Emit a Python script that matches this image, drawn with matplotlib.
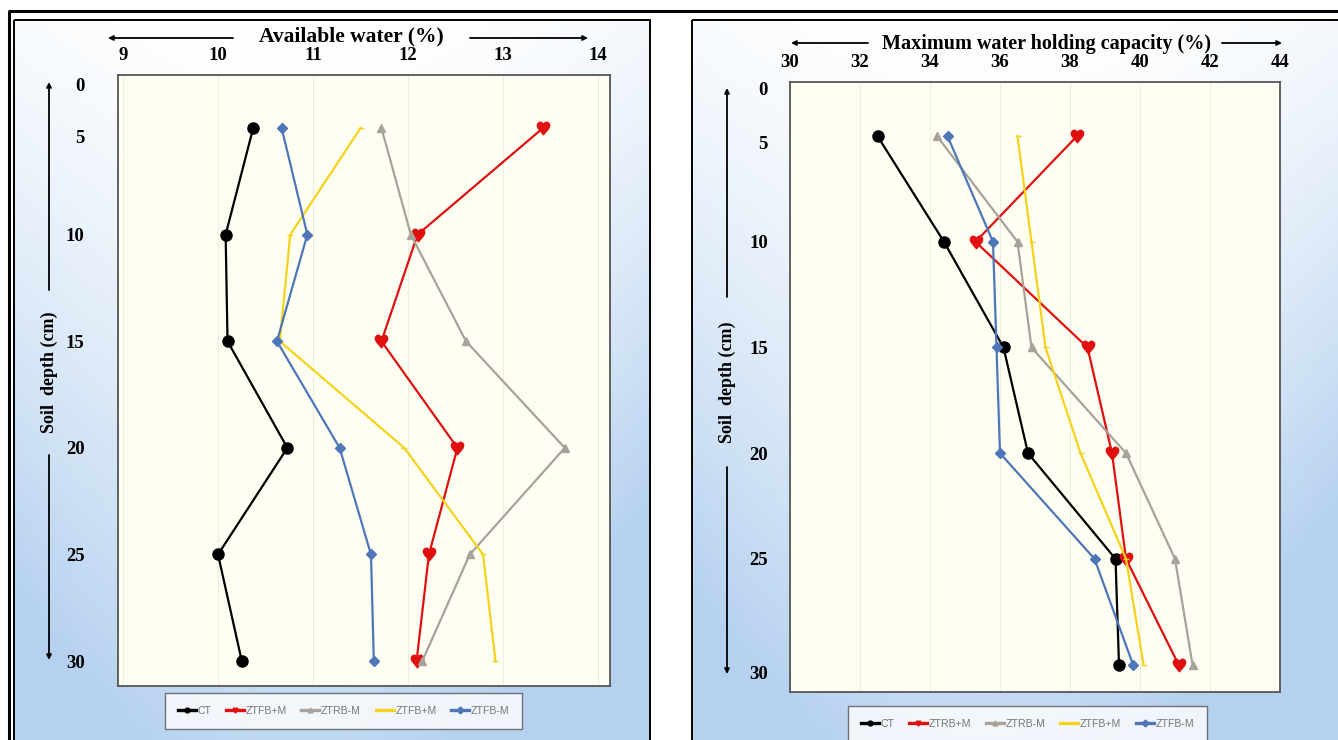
import numpy as np
import matplotlib
matplotlib.use("Agg")
import matplotlib.pyplot as plt
from matplotlib.patches import Rectangle
from matplotlib.lines import Line2D

# ---------------- data ----------------
depth = [5, 10, 15, 20, 25, 30]
depth_labels = ["0", "5", "10", "15", "20", "25", "30"]

# Available water (%)
aw_labels = ["CT", "ZTFB+M", "ZTRB-M", "ZTFB+M", "ZTFB-M"]
aw_ct = [10.37, 10.08, 10.10, 10.73, 10.00, 10.25]
aw_red = [13.42, 12.10, 11.72, 12.52, 12.22, 12.09]
aw_gray = [11.72, 12.03, 12.61, 13.65, 12.65, 12.15]
aw_yellow = [11.50, 10.76, 10.65, 11.96, 12.79, 12.92]
aw_blue = [10.67, 10.94, 10.62, 11.28, 11.61, 11.64]
aw_ticks = [9, 10, 11, 12, 13, 14]

# Maximum water holding capacity (%)
mw_labels = ["CT", "ZTRB+M", "ZTRB-M", "ZTFB+M", "ZTFB-M"]
mw_ct = [32.5, 34.4, 36.1, 36.8, 39.3, 39.4]
mw_red = [38.2, 35.3, 38.5, 39.2, 39.6, 41.1]
mw_gray = [34.2, 36.5, 36.9, 39.6, 41.0, 41.5]
mw_yellow = [36.5, 36.9, 37.3, 38.3, 39.6, 40.1]
mw_blue = [34.5, 35.8, 35.9, 36.0, 38.7, 39.8]
mw_ticks = [30, 32, 34, 36, 38, 40, 42, 44]

colors = ["#000000", "#e01010", "#a8a29a", "#f5d31c", "#4f76b8"]
markers = ["o", "$\u2665$", "^", "_", "D"]
msizes = [8, 9, 6, 5, 5]

W, H = 1338, 740
fig = plt.figure(figsize=(W / 100, H / 100), dpi=100)
fig.patch.set_facecolor("white")

serif = ["Liberation Serif", "DejaVu Serif"]


def fx(px):
    return px / W


def fy(py):
    return 1 - py / H


def gradient_panel(x0, y0, x1, y1):
    ax = fig.add_axes([fx(x0), fy(y1), fx(x1) - fx(x0), fy(y0) - fy(y1)], zorder=0)
    ny, nx = 200, 200
    yy, xx = np.mgrid[0:1:ny * 1j, 0:1:nx * 1j]
    t = np.clip(0.85 * yy ** 1.3 + 0.4 * (np.abs(xx - 0.45) * 2) ** 2 * (0.3 + yy), 0, 1)
    top = np.array([1.0, 1.0, 1.0])
    bot = np.array([0.71, 0.82, 0.94])
    img = top[None, None, :] * (1 - t[..., None]) + bot[None, None, :] * t[..., None]
    ax.imshow(img, aspect="auto", extent=[0, 1, 1, 0])
    ax.set_xlim(0, 1)
    ax.set_ylim(1, 0)
    ax.axis("off")
    return ax


gradient_panel(15, 21, 650, 740)
gradient_panel(693, 21, 1338, 740)

# frames
frame_ax = fig.add_axes([0, 0, 1, 1], zorder=5)
frame_ax.set_xlim(0, W)
frame_ax.set_ylim(H, 0)
frame_ax.axis("off")
frame_ax.plot([8, W], [11, 11], color="black", lw=2.2, solid_capstyle="butt")
frame_ax.plot([9, 9], [11, H], color="black", lw=2.2, solid_capstyle="butt")
frame_ax.add_patch(Rectangle((14, 20), 636, 730, fill=False, ec="black", lw=1.4))
frame_ax.add_patch(Rectangle((692, 20), 660, 730, fill=False, ec="black", lw=1.4))


def arrow(x0, y0, x1, y1):
    frame_ax.annotate("", xy=(x1, y1), xytext=(x0, y0),
                      arrowprops=dict(arrowstyle="-|>", color="black", lw=1.3,
                                      mutation_scale=7, shrinkA=0, shrinkB=0))


# left panel decorations
frame_ax.text(351, 36, "Available water (%)", ha="center", va="center",
              fontsize=15.5, fontweight="bold", family=serif)
arrow(233, 38, 108, 38)
arrow(470, 38, 588, 38)
arrow(49, 290, 49, 82)
arrow(49, 455, 49, 660)
frame_ax.text(49, 372, "Soil  depth (cm)", ha="center", va="center", rotation=90,
              fontsize=13, fontweight="bold", family=serif)

# right panel decorations
frame_ax.text(1047, 44, "Maximum water holding capacity (%)", ha="center", va="center",
              fontsize=14.5, fontweight="bold", family=serif)
arrow(868, 43, 791, 43)
arrow(1222, 43, 1282, 43)
arrow(727, 297, 727, 88)
arrow(727, 467, 727, 674)
frame_ax.text(727, 382, "Soil  depth (cm)", ha="center", va="center", rotation=90,
              fontsize=13, fontweight="bold", family=serif)


def make_axes(x0, y0, x1, y1, xlim, ylim, xticks, yticks, series, labels, legend_box,
              ylabel_pad):
    ax = fig.add_axes([fx(x0), fy(y1), fx(x1) - fx(x0), fy(y0) - fy(y1)], zorder=3)
    ax.set_facecolor("#fefef2")
    for x in xticks:
        ax.axvline(x, color="#eeeee0", lw=0.8, zorder=0)
    for vals, c, m, ms, lab in zip(series, colors, markers, msizes, labels):
        ax.plot(vals, depth, color=c, lw=1.6, marker=m, markersize=ms,
                markeredgecolor=c, label=lab, zorder=3)
    ax.set_xlim(*xlim)
    ax.set_ylim(*ylim)
    ax.xaxis.tick_top()
    ax.set_xticks(xticks)
    ax.set_xticklabels([str(t) for t in xticks])
    ax.set_yticks(yticks)
    ax.set_yticklabels(depth_labels)
    ax.tick_params(axis="both", length=0, labelsize=13.5)
    ax.tick_params(axis="x", pad=8)
    ax.tick_params(axis="y", pad=ylabel_pad)
    for lab in ax.get_xticklabels() + ax.get_yticklabels():
        lab.set_fontweight("bold")
        lab.set_family(serif)
    for s in ax.spines.values():
        s.set_color("#555555")
        s.set_linewidth(1.3)
    handles = [Line2D([0], [0], color=c, lw=2.4, marker=m, markersize=3.5,
                      markeredgecolor=c) for c, m in zip(colors, markers)]
    lx0, ly0, lx1, ly1 = legend_box
    leg = fig.legend(handles, labels, loc="center",
                     bbox_to_anchor=(fx((lx0 + lx1) / 2), fy((ly0 + ly1) / 2)),
                     ncol=5, frameon=True, handlelength=1.7,
                     handletextpad=0.15, columnspacing=1.4, borderpad=1.2,
                     fancybox=False, edgecolor="#555555", labelcolor="#777777",
                     prop={"family": "Liberation Sans", "size": 7.6})
    leg.get_frame().set_linewidth(1.0)
    leg.set_zorder(6)
    return ax


make_axes(118, 75, 610, 686, (8.947, 14.126), (31.17, 2.51), aw_ticks,
          [2.94, 5.4, 10, 15, 20, 25, 30],
          [aw_ct, aw_red, aw_gray, aw_yellow, aw_blue], aw_labels,
          (165, 692, 522, 730), 24)

make_axes(790, 82, 1280, 692, (30, 44), (31.3, 2.44), mw_ticks,
          [2.73, 5.3, 10, 15, 20, 25, 30.4],
          [mw_ct, mw_red, mw_gray, mw_yellow, mw_blue], mw_labels,
          (845, 702, 1210, 746), 16)

fig.savefig("out.png", dpi=100)
